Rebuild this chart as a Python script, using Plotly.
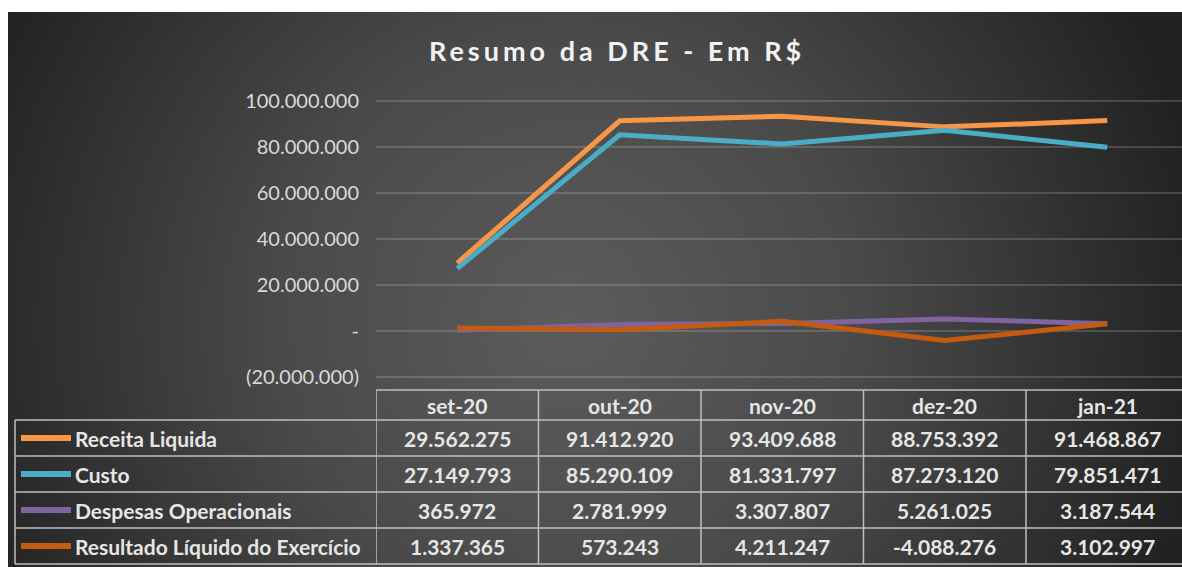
import base64
import plotly.graph_objects as go

# ---------------- data ----------------
categories = ["set-20", "out-20", "nov-20", "dez-20", "jan-21"]
series_names = ["Receita Liquida", "Custo", "Despesas Operacionais", "Resultado Líquido do Exercício"]
receita = [29562275, 91412920, 93409688, 88753392, 91468867]
custo = [27149793, 85290109, 81331797, 87273120, 79851471]
despesas = [365972, 2781999, 3307807, 5261025, 3187544]
resultado = [1337365, 573243, 4211247, -4088276, 3102997]
tick_vals = [-20000000, 0, 20000000, 40000000, 60000000, 80000000, 100000000]
tick_text = ["(20.000.000)", "-", "20.000.000", "40.000.000", "60.000.000", "80.000.000", "100.000.000"]
title_text = "Resumo da DRE - Em R$"

series_values = [receita, custo, despesas, resultado]
colors = ["#F79646", "#4BACC6", "#8064A2", "#C55A11"]

W, H = 1182, 567
FONT = "Lato"


def py(p):  # pixel y -> paper y
    return 1 - p / H


def px(p):
    return p / W


def fmt(v):
    return f"{v:,}".replace(",", ".")


# background radial gradient as svg image
svg = f"""<svg xmlns='http://www.w3.org/2000/svg' width='1174' height='555' viewBox='0 0 1174 555'>
<defs><radialGradient id='g' gradientUnits='userSpaceOnUse' cx='560' cy='310' r='640'>
<stop offset='0' stop-color='#5c5c5c'/><stop offset='0.45' stop-color='#4a4a4a'/><stop offset='1' stop-color='#222222'/>
</radialGradient></defs><rect width='1174' height='555' fill='url(#g)'/></svg>"""
svg_uri = "data:image/svg+xml;base64," + base64.b64encode(svg.encode()).decode()

fig = go.Figure()
for name, vals, col in zip(series_names, series_values, colors):
    fig.add_trace(go.Scatter(
        x=list(range(len(categories))), y=vals, mode="lines", name=name,
        line=dict(color=col, width=5), showlegend=False,
        hoverinfo="skip",
    ))

plot_left = 376
col_w = 162.5
x_end = -0.5 + (W - plot_left) / col_w
y0_px, y_per_px = 331.0, 20000000 / 46.0
y_top_px, y_bot_px = 96, 380
y_hi = (y0_px - y_top_px) * y_per_px
y_lo = -(y_bot_px - y0_px) * y_per_px

shapes = []
annotations = []
line_col = "#BFBFBF"
lw = 1.5

header_top, header_bot = 390, 420
row_edges = [420, 456, 492, 528, 564]
table_left = 15

shapes.append(dict(type="line", xref="x", yref="paper", x0=-0.5, x1=x_end, y0=py(header_top), y1=py(header_top),
                   line=dict(color=line_col, width=lw)))
for e in row_edges:
    shapes.append(dict(type="line", xref="paper", yref="paper", x0=px(table_left), x1=1, y0=py(e), y1=py(e),
                       line=dict(color=line_col, width=lw)))
shapes.append(dict(type="line", xref="paper", yref="paper", x0=px(table_left), x1=px(table_left),
                   y0=py(row_edges[0]), y1=py(row_edges[-1]), line=dict(color=line_col, width=lw)))
for i in range(len(categories)):
    shapes.append(dict(type="line", xref="x", yref="paper", x0=i - 0.5, x1=i - 0.5,
                       y0=py(header_top), y1=py(row_edges[-1]), line=dict(color=line_col, width=lw)))

text_col = "#E6E6E6"
TFS = 21
for i, c in enumerate(categories):
    annotations.append(dict(x=i, xref="x", y=py((header_top + header_bot) / 2), yref="paper", text=f"<b>{c}</b>",
                            showarrow=False, font=dict(family=FONT, size=TFS, color=text_col),
                            xanchor="center", yanchor="middle"))
for r, (name, vals, col) in enumerate(zip(series_names, series_values, colors)):
    cy = (row_edges[r] + row_edges[r + 1]) / 2
    shapes.append(dict(type="line", xref="paper", yref="paper", x0=px(21), x1=px(71), y0=py(cy), y1=py(cy),
                       line=dict(color=col, width=6)))
    annotations.append(dict(x=px(73), xref="paper", y=py(cy), yref="paper", text=f"<b>{name}</b>",
                            showarrow=False, font=dict(family=FONT, size=TFS, color=text_col),
                            xanchor="left", yanchor="middle"))
    for i, v in enumerate(vals):
        annotations.append(dict(x=i, xref="x", y=py(cy), yref="paper", text=f"<b>{fmt(v)}</b>",
                                showarrow=False, font=dict(family=FONT, size=TFS, color=text_col),
                                xanchor="center", yanchor="middle"))

annotations.append(dict(x=px(617), xref="paper", y=py(50), yref="paper",
                        text=f"<b><span style='letter-spacing:4px'>{title_text}</span></b>",
                        showarrow=False, font=dict(family=FONT, size=27, color="#F2F2F2"),
                        xanchor="center", yanchor="middle"))

fig.update_layout(
    width=W, height=H,
    margin=dict(l=0, r=0, t=0, b=0, pad=0, autoexpand=False),
    paper_bgcolor="white",
    plot_bgcolor="rgba(0,0,0,0)",
    images=[dict(source=svg_uri, xref="paper", yref="paper", x=px(8), y=py(12),
                 sizex=(W - 8) / W, sizey=(H - 12) / H, sizing="stretch",
                 xanchor="left", yanchor="top", layer="below")],
    xaxis=dict(domain=[px(plot_left), 1], range=[-0.5, x_end], showgrid=False, zeroline=False,
               showticklabels=False, showline=False, fixedrange=True, automargin=False),
    yaxis=dict(domain=[py(y_bot_px), py(y_top_px)], range=[y_lo, y_hi], tickvals=tick_vals, ticktext=tick_text,
               showgrid=True, gridcolor="rgba(255,255,255,0.16)", gridwidth=1.5, zeroline=False,
               ticks="", ticklabelstandoff=16, automargin=False,
               tickfont=dict(family=FONT, size=20, color="#D9D9D9"), fixedrange=True),
    shapes=shapes,
    annotations=annotations,
    showlegend=False,
)

post = (
    "document.documentElement.style.margin='0';document.documentElement.style.padding='0';"
    "document.body.style.margin='0';document.body.style.padding='0';document.body.style.overflow='hidden';"
)
fig.write_html("out.html", config={"displayModeBar": False}, post_script=post)
